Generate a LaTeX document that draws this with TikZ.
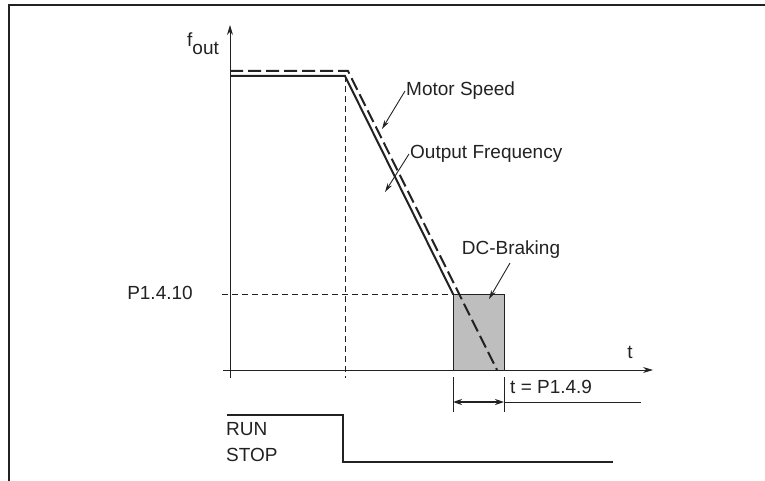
\documentclass[tikz,border=0pt]{standalone}
\usepackage{fontspec}
\setmainfont{Liberation Sans}
\usetikzlibrary{arrows.meta}
\definecolor{ink}{HTML}{222222}
\definecolor{brake}{HTML}{BEBEBE}

\begin{document}
\begin{tikzpicture}[x=1pt, y=-1pt, >={Stealth[length=10pt,width=6pt]},
		font=\fontsize{19}{22}\selectfont, color=ink, inner sep=1pt,
		thinline/.style={line width=0.9pt},
		curve/.style={line width=2pt},
		guide/.style={line width=0.9pt, dash pattern=on 6pt off 4pt},
		callout/.style={line width=0.9pt, -{Stealth[length=9pt,width=5pt]}}]
	\useasboundingbox (0,0) rectangle (765,481);
	\draw[line width=1.4pt] (765,5) -- (9,5) -- (9,481);
	
	% axes
	\draw[thinline,->] (223,370) -- (653,370);
	\draw[thinline,->] (230,378) -- (230,25);
	\node[anchor=base west, inner sep=0pt] (fout) at (187,47) {f\raisebox{-8pt}{out}};
	\node (tlab) at (630,352) {t};
	
	\coordinate (fmax) at (230,76);
	\coordinate (ramp) at (345,76);
	\coordinate (brakeon) at (453,294);
	\coordinate (brakeoff) at (504,370);
	\coordinate (smax) at (230,71);
	\coordinate (sramp) at (348,71);
	\coordinate (szero) at (497,370);
	
	\draw[guide] (ramp) -- (345,378);
	\draw[guide] (222,294) -- (brakeon);
	\node (plevel) at (160,293) {P1.4.10};
	
	\filldraw[fill=brake, draw=ink, line width=1pt] (brakeon) rectangle (brakeoff);
	\draw[curve, line join=miter] (fmax) -- (ramp) -- (brakeon);
	\draw[curve, dash pattern=on 13pt off 5pt] (smax) -- (sramp) -- (szero);
	
	\node[anchor=west] (motor) at (405,91) {Motor Speed};
	\draw[callout] (motor.west) -- (382,129);
	\node[anchor=west] (outf) at (409,154) {Output Frequency};
	\draw[callout] (outf.west) -- (385,192);
	\node (dcb) at (511,250) {DC-Braking};
	\draw[callout] (510,263) -- (489,299);
	
	% braking time
	\draw[thinline] (453,377) -- (453,412);
	\draw[thinline] (504,377) -- (504,412);
	\draw[line width=1.6pt, <->, >={Stealth[length=9pt,width=6pt]}] (453,402) -- (504,402);
	\draw[thinline] (504,402) -- (641,402);
	\node[anchor=west] (tdc) at (509,387) {t = P1.4.9};
	
	% run / stop
	\draw[curve] (227,415) -- (343,415) -- (343,462) -- (613,462);
	\node[anchor=west] (run) at (225,429) {RUN};
	\node[anchor=west] (stop) at (225,455) {STOP};
\end{tikzpicture}
\end{document}
